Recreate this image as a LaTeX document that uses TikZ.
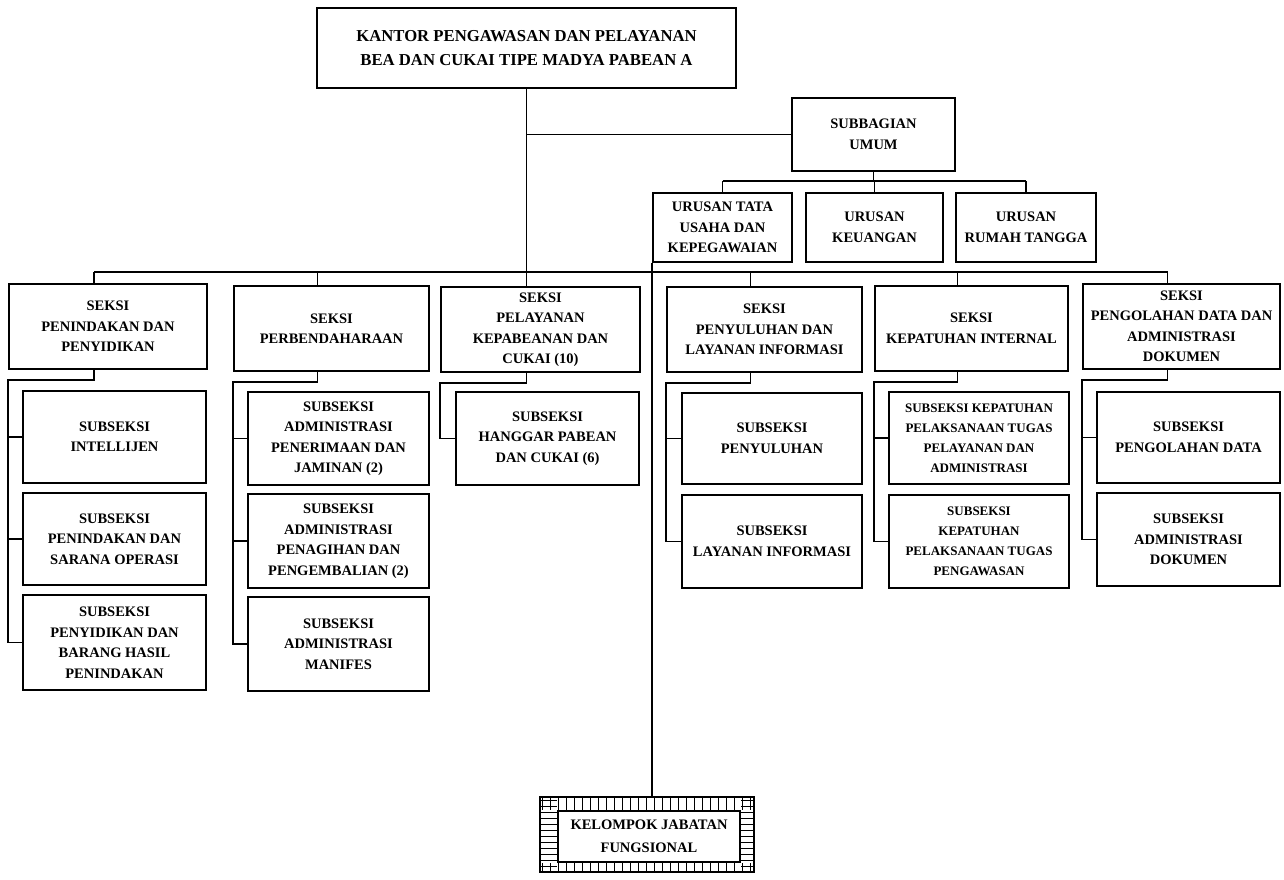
\documentclass[tikz,border=0pt]{standalone}
\usepackage{fontspec}
\setmainfont{Liberation Serif}
\begin{document}
\begin{tikzpicture}[x=1pt,y=-1pt,
  box/.style={draw, line width=1.6pt, align=center, inner sep=1pt, font=\fontsize{14.5}{20.5}\selectfont\bfseries},
  smallbox/.style={box, font=\fontsize{13}{20}\selectfont\bfseries},
  bigbox/.style={box, font=\fontsize{16.7}{24}\selectfont\bfseries},
  conn/.style={line width=1.6pt},
  deco/.style={line width=1.1pt}
]
\useasboundingbox (0,0) rectangle (1284,879);

% top level
\node[bigbox, minimum width=419pt, minimum height=80pt] (top) at (526.5,48) {KANTOR PENGAWASAN DAN PELAYANAN\\BEA DAN CUKAI TIPE MADYA PABEAN A};
\node[box, minimum width=163pt, minimum height=73pt] (subbag) at (873.5,134.5) {SUBBAGIAN\\UMUM};
\node[box, minimum width=139pt, minimum height=69pt] (tata) at (722.5,227.5) {URUSAN TATA\\USAHA DAN\\KEPEGAWAIAN};
\node[box, minimum width=137pt, minimum height=69pt] (keu) at (874.5,227.5) {URUSAN\\KEUANGAN};
\node[box, minimum width=140pt, minimum height=69pt] (rumah) at (1026,227.5) {URUSAN\\RUMAH TANGGA};

% seksi row
\node[box, minimum width=198pt, minimum height=85pt] (s1) at (108,326.5) {SEKSI\\PENINDAKAN DAN\\PENYIDIKAN};
\node[box, minimum width=195pt, minimum height=85pt] (s2) at (331.5,328.5) {SEKSI\\PERBENDAHARAAN};
\node[box, minimum width=199pt, minimum height=85pt] (s3) at (540.5,329.5) {SEKSI\\PELAYANAN\\KEPABEANAN DAN\\CUKAI (10)};
\node[box, minimum width=195pt, minimum height=85pt] (s4) at (764.5,329.5) {SEKSI\\PENYULUHAN DAN\\LAYANAN INFORMASI};
\node[box, minimum width=193pt, minimum height=85pt] (s5) at (971.5,328.5) {SEKSI\\KEPATUHAN INTERNAL};
\node[box, minimum width=197pt, minimum height=85pt] (s6) at (1181.5,326.5) {SEKSI\\PENGOLAHAN DATA DAN\\ADMINISTRASI\\DOKUMEN};

% subseksi column 1
\node[box, minimum width=183pt, minimum height=92pt] (c1a) at (114.5,437) {SUBSEKSI\\INTELLIJEN};
\node[box, minimum width=183pt, minimum height=92pt] (c1b) at (114.5,539) {SUBSEKSI\\PENINDAKAN DAN\\SARANA OPERASI};
\node[box, minimum width=183pt, minimum height=95pt] (c1c) at (114.5,642.5) {SUBSEKSI\\PENYIDIKAN DAN\\BARANG HASIL\\PENINDAKAN};
% column 2
\node[box, minimum width=181pt, minimum height=93pt] (c2a) at (338.5,438.5) {SUBSEKSI\\ADMINISTRASI\\PENERIMAAN DAN\\JAMINAN (2)};
\node[box, minimum width=181pt, minimum height=94pt] (c2b) at (338.5,541) {SUBSEKSI\\ADMINISTRASI\\PENAGIHAN DAN\\PENGEMBALIAN (2)};
\node[box, minimum width=181pt, minimum height=94pt] (c2c) at (338.5,644) {SUBSEKSI\\ADMINISTRASI\\MANIFES};
% column 3
\node[box, minimum width=183pt, minimum height=93pt] (c3a) at (547.5,438.5) {SUBSEKSI\\HANGGAR PABEAN\\DAN CUKAI (6)};
% column 4
\node[box, minimum width=180pt, minimum height=91pt] (c4a) at (772,438.5) {SUBSEKSI\\PENYULUHAN};
\node[box, minimum width=180pt, minimum height=93pt] (c4b) at (772,541.5) {SUBSEKSI\\LAYANAN INFORMASI};
% column 5
\node[smallbox, minimum width=180pt, minimum height=92pt] (c5a) at (979,438) {SUBSEKSI KEPATUHAN\\PELAKSANAAN TUGAS\\PELAYANAN DAN\\ADMINISTRASI};
\node[smallbox, minimum width=180pt, minimum height=93pt] (c5b) at (979,541.5) {SUBSEKSI\\KEPATUHAN\\PELAKSANAAN TUGAS\\PENGAWASAN};
% column 6
\node[box, minimum width=183pt, minimum height=91pt] (c6a) at (1188.5,437.5) {SUBSEKSI\\PENGOLAHAN DATA};
\node[box, minimum width=183pt, minimum height=93pt] (c6b) at (1188.5,539.5) {SUBSEKSI\\ADMINISTRASI\\DOKUMEN};

% kelompok jabatan fungsional (decorated frame)
\node[draw, line width=1.6pt, minimum width=214pt, minimum height=75pt] (kel) at (647,834.5) {};
\node[draw, deco, fill=white, align=center, inner sep=0pt, minimum width=182pt, minimum height=51pt,
      font=\fontsize{14.5}{23}\selectfont\bfseries] (kelin) at (649,836.5) {KELOMPOK JABATAN\\FUNGSIONAL};
\foreach \i in {0,...,26} {
  \draw[deco] ([xshift=3pt+\i*8pt]kel.north west) -- ([xshift=3pt+\i*8pt]kel.north west |- kelin.north);
  \draw[deco] ([xshift=3pt+\i*8pt]kel.south west) -- ([xshift=3pt+\i*8pt]kel.south west |- kelin.south);
}
\foreach \j in {0,...,11} {
  \draw[deco] ([yshift=-4pt-\j*6pt]kel.north west) -- ([yshift=-4pt-\j*6pt]kel.north west -| kelin.west);
  \draw[deco] ([yshift=-4pt-\j*6pt]kel.north east) -- ([yshift=-4pt-\j*6pt]kel.north east -| kelin.east);
}

% helper levels
\coordinate (bus) at (0,272);
\coordinate (ubus) at (0,181);

% trunk and subbagian
\draw[conn] (top.south) -- (top.south |- s3.north);
\draw[conn] (top.south |- subbag.west) -- (subbag.west);
\draw[conn] (subbag.south) -- (subbag.south |- ubus);
\draw[conn] (tata.north |- ubus) -- (rumah.north |- ubus);
\draw[conn] (tata.north |- ubus) -- (tata.north);
\draw[conn] (keu.north |- ubus) -- (keu.north);
\draw[conn] (rumah.north |- ubus) -- (rumah.north);

% main bus and drops to seksi
\draw[conn] ([xshift=-14pt]s1.north |- bus) -- ([xshift=-14pt]s6.north |- bus);
\foreach \s in {s1,s2,s4,s5,s6} {
  \draw[conn] ([xshift=-14pt]\s.north |- bus) -- ([xshift=-14pt]\s.north);
}

% long line to kelompok jabatan fungsional
\draw[conn] (tata.south west) -- (tata.south west |- kel.north);

% seksi to subseksi connectors
\draw[conn] ([xshift=-14pt]s1.south) -- ([xshift=-14pt,yshift=-10pt]s1.south) -- ([yshift=-10pt]s1.south west) |- (c1c.west);
\draw[conn] (s1.south west |- c1a.west) -- (c1a.west);
\draw[conn] (s1.south west |- c1b.west) -- (c1b.west);

\draw[conn] ([xshift=-14pt]s2.south) -- ([xshift=-14pt,yshift=-10pt]s2.south) -- ([yshift=-10pt]s2.south west) |- (c2c.west);
\draw[conn] (s2.south west |- c2a.west) -- (c2a.west);
\draw[conn] (s2.south west |- c2b.west) -- (c2b.west);

\draw[conn] ([xshift=-14pt]s3.south) -- ([xshift=-14pt,yshift=-10pt]s3.south) -- ([yshift=-10pt]s3.south west) |- (c3a.west);

\draw[conn] ([xshift=-14pt]s4.south) -- ([xshift=-14pt,yshift=-10pt]s4.south) -- ([yshift=-10pt]s4.south west) |- (c4b.west);
\draw[conn] (s4.south west |- c4a.west) -- (c4a.west);

\draw[conn] ([xshift=-14pt]s5.south) -- ([xshift=-14pt,yshift=-10pt]s5.south) -- ([yshift=-10pt]s5.south west) |- (c5b.west);
\draw[conn] (s5.south west |- c5a.west) -- (c5a.west);

\draw[conn] ([xshift=-14pt]s6.south) -- ([xshift=-14pt,yshift=-10pt]s6.south) -- ([yshift=-10pt]s6.south west) |- (c6b.west);
\draw[conn] (s6.south west |- c6a.west) -- (c6a.west);
\end{tikzpicture}
\end{document}
